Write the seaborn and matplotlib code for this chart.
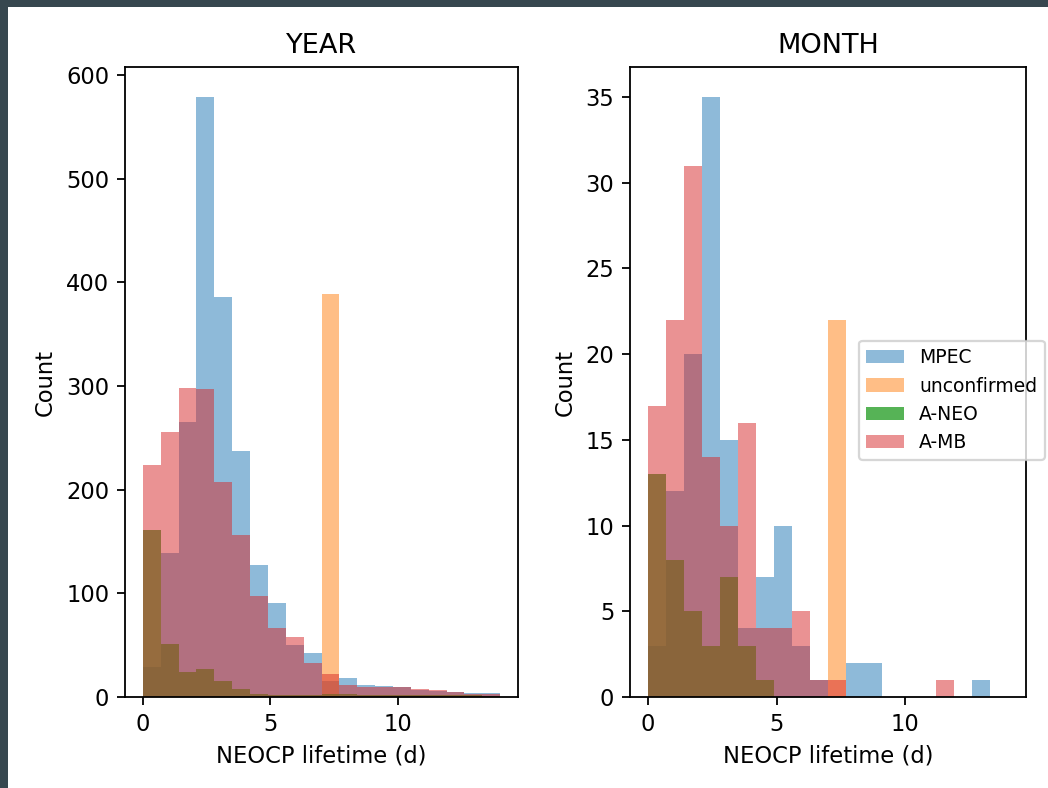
import numpy as np
import pandas as pd
import matplotlib
matplotlib.use("Agg")
import matplotlib.pyplot as plt
from matplotlib.patches import Patch, Rectangle
import seaborn as sns

# NEOCP lifetime histograms: 20 bins of 0.7 d between 0 and 14 d
bin_edges = np.linspace(0, 14, 21)
bin_centers = (bin_edges[:-1] + bin_edges[1:]) / 2

series_names = ["MPEC", "unconfirmed", "A-NEO", "A-MB"]
series_colors = ["#1f77b4", "#ff7f0e", "#2ca02c", "#d62728"]
series_alphas = [0.5, 0.5, 0.8, 0.5]

# Counts per bin, last year
mpec_year = [29, 139, 265, 579, 386, 237, 127, 91, 50, 42, 15, 18, 12, 11, 10, 7, 6, 5, 4, 4]
unconfirmed_year = [0, 0, 0, 0, 0, 0, 0, 0, 0, 0, 389, 0, 0, 0, 0, 0, 0, 0, 0, 0]
aneo_year = [161, 51, 24, 27, 15, 8, 3, 2, 2, 2, 3, 3, 2, 2, 2, 2, 2, 2, 2, 1]
amb_year = [224, 256, 298, 297, 207, 156, 97, 67, 58, 33, 22, 12, 10, 10, 10, 8, 7, 5, 3, 3]

# Counts per bin, last month
mpec_month = [3, 12, 20, 35, 15, 4, 7, 10, 3, 1, 0, 2, 2, 0, 0, 0, 0, 0, 1, 0]
unconfirmed_month = [0, 0, 0, 0, 0, 0, 0, 0, 0, 0, 22, 0, 0, 0, 0, 0, 0, 0, 0, 0]
aneo_month = [13, 8, 5, 3, 7, 3, 1, 0, 0, 0, 0, 0, 0, 0, 0, 0, 0, 0, 0, 0]
amb_month = [17, 22, 31, 14, 10, 16, 4, 4, 5, 1, 1, 0, 0, 0, 0, 0, 1, 0, 0, 0]

panels = [
    ("YEAR", [mpec_year, unconfirmed_year, aneo_year, amb_year]),
    ("MONTH", [mpec_month, unconfirmed_month, aneo_month, amb_month]),
]

DPI = 162.5
W, H = 1048, 788
fig = plt.figure(figsize=(W / DPI, H / DPI), dpi=DPI, facecolor="#37474f")
fig.add_artist(Rectangle((8 / W, 0), 1, 1 - 7 / H, transform=fig.transFigure,
                         facecolor="white", edgecolor="none", zorder=-10))

ax_year = fig.add_axes([125 / W, 91 / H, 393 / W, 630 / H])
ax_month = fig.add_axes([630 / W, 91 / H, 396 / W, 630 / H])

edges_list = [float(e) for e in bin_edges]

for ax, (title, counts_list) in zip([ax_year, ax_month], panels):
    for name, color, alpha, counts in zip(series_names, series_colors,
                                          series_alphas, counts_list):
        df = pd.DataFrame({"lifetime": bin_centers,
                           "count": np.asarray(counts, dtype=float)})
        sns.histplot(data=df, x="lifetime", weights="count", bins=edges_list,
                     color=color, alpha=alpha, linewidth=0, edgecolor="none",
                     ax=ax)
    ax.set_title(title, fontsize=12)
    ax.set_xlabel("NEOCP lifetime (d)")
    ax.set_ylabel("Count")
    ax.set_xticks([0, 5, 10])

handles = [Patch(facecolor=c, alpha=a) for c, a in zip(series_colors, series_alphas)]
ax_month.legend(handles, series_names, loc="center left",
                bbox_to_anchor=(0.578, 0.471), borderaxespad=0,
                fontsize="small")

fig.savefig("out.png", dpi=DPI, facecolor=fig.get_facecolor())
